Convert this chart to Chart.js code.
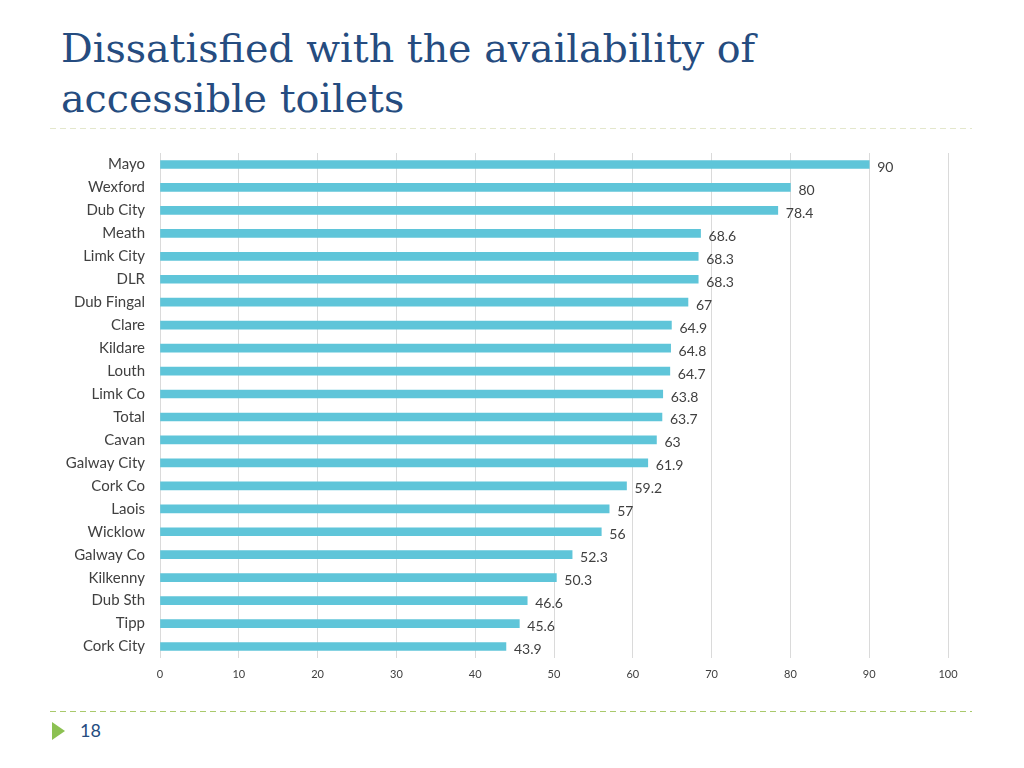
<!DOCTYPE html>
<html>
<head>
<meta charset="utf-8">
<script src="https://cdn.jsdelivr.net/npm/chart.js@4"></script>
<style>
    body { margin: 0; width: 1024px; height: 768px; background: #fff; position: relative; overflow: hidden; }
    h1 {
        position: absolute; left: 61px; top: 23px; margin: 0;
        font-family: "DejaVu Serif", serif; font-weight: normal;
        font-size: 39.6px; line-height: 50px; color: #254c80;
    }
    .rule { position: absolute; left: 50px; width: 922px; height: 1px; }
    .rule.top { top: 128px; background: repeating-linear-gradient(90deg, #e4e7cc 0 6px, transparent 6px 10px); }
    .rule.bottom { top: 711px; background: repeating-linear-gradient(90deg, #a9c96c 0 6px, transparent 6px 10px); }
    .arrow {
        position: absolute; left: 52px; top: 722px; width: 0; height: 0;
        border-top: 9px solid transparent; border-bottom: 9px solid transparent;
        border-left: 13px solid #8cc152;
    }
    .page { position: absolute; left: 80px; top: 719px; font-family: Lato, sans-serif; font-size: 18px; color: #254c80; }
    #wrap { position: absolute; left: 0; top: 129px; width: 1024px; height: 561px; }
</style>
</head>
<body>
<h1>Dissatisfied with the availability of<br>accessible toilets</h1>
<div class="rule top"></div>
<div class="rule bottom"></div>
<div class="arrow"></div>
<div class="page">18</div>
<div id="wrap"><canvas id="chart"></canvas></div>

<script>
// данные с картинки
const areas = [
    "Mayo", "Wexford", "Dub City", "Meath", "Limk City", "DLR", "Dub Fingal",
    "Clare", "Kildare", "Louth", "Limk Co", "Total", "Cavan", "Galway City",
    "Cork Co", "Laois", "Wicklow", "Galway Co", "Kilkenny", "Dub Sth", "Tipp", "Cork City"
];
const dissatisfied = [
    90, 80, 78.4, 68.6, 68.3, 68.3, 67,
    64.9, 64.8, 64.7, 63.8, 63.7, 63, 61.9,
    59.2, 57, 56, 52.3, 50.3, 46.6, 45.6, 43.9
];
const xTicks = [0, 10, 20, 30, 40, 50, 60, 70, 80, 90, 100];

// подписи значений справа от полос
const valueLabels = {
    id: "valueLabels",
    afterDatasetsDraw(chart) {
        const ctx = chart.ctx;
        const meta = chart.getDatasetMeta(0);
        ctx.save();
        ctx.font = "14px Lato, sans-serif";
        ctx.fillStyle = "#404040";
        ctx.textBaseline = "middle";
        meta.data.forEach((bar, i) => {
            ctx.fillText(String(dissatisfied[i]), bar.x + 8, bar.y + 3);
        });
        ctx.restore();
    }
};

new Chart(document.getElementById("chart"), {
    type: "bar",
    data: {
        labels: areas,
        datasets: [{
            data: dissatisfied,
            backgroundColor: "#5fc5d9",
            barThickness: 8
        }]
    },
    options: {
        indexAxis: "y",
        responsive: true,
        maintainAspectRatio: false,
        animation: false,
        layout: { padding: { top: 1, right: 76, left: 0, bottom: 0 } },
        plugins: { legend: { display: false }, tooltip: { enabled: false } },
        scales: {
            x: {
                min: 0,
                max: 100,
                afterBuildTicks: s => { s.ticks = xTicks.map(v => ({ value: v })); },
                afterFit: s => { s.height = 32; },
                grid: { color: "#dadada", drawTicks: false },
                border: { display: false },
                ticks: { padding: 10, color: "#404040", font: { family: "Lato", size: 11 } }
            },
            y: {
                afterFit: s => { s.width = 160; },
                grid: { display: false, drawTicks: false },
                border: { display: false },
                ticks: { padding: 15, color: "#404040", font: { family: "Lato", size: 15 } }
            }
        }
    },
    plugins: [valueLabels]
});
</script>
</body>
</html>
